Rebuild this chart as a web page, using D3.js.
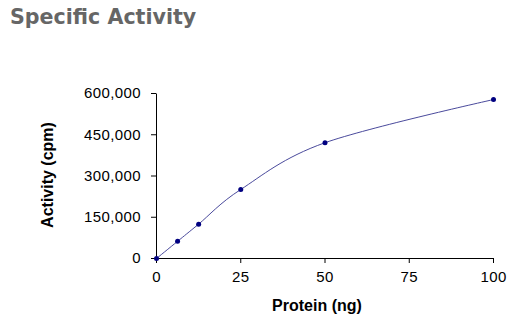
<!DOCTYPE html>
<html>
<head>
<meta charset="utf-8">
<script src="https://cdn.jsdelivr.net/npm/d3@7"></script>
<style>
  html, body { margin: 0; padding: 0; background: #fff; }
  svg { display: block; }
</style>
</head>
<body>
<svg id="chart" width="522" height="323"></svg>
<script>
const title = "Specific Activity";
const xLabel = "Protein (ng)";
const yLabel = "Activity (cpm)";
const protein = [0, 6.25, 12.5, 25, 50, 100];
const activity = [0, 62500, 125000, 251000, 421000, 578000];
const xTicks = [0, 25, 50, 75, 100];
const yTicks = [0, 150000, 300000, 450000, 600000];

const svg = d3.select("#chart");
const x = d3.scaleLinear().domain([0, 100]).range([156, 493]);
const y = d3.scaleLinear().domain([0, 600000]).range([258, 93]);

svg.append("text")
  .attr("x", 10).attr("y", 24)
  .attr("font-family", "DejaVu Sans").attr("font-weight", "bold")
  .attr("font-size", 20.6).attr("fill", "#666666")
  .text(title);

const xAxis = svg.append("g").attr("transform", "translate(0,258)")
  .call(d3.axisBottom(x).tickValues(xTicks).tickSize(5).tickSizeOuter(0).tickPadding(8));
const yAxis = svg.append("g").attr("transform", "translate(156,0)")
  .call(d3.axisLeft(y).tickValues(yTicks).tickFormat(d3.format(",")).tickSize(5).tickSizeOuter(0).tickPadding(10));

[xAxis, yAxis].forEach(g => {
  g.selectAll("text").attr("font-family", "Liberation Sans, Arial, sans-serif")
    .attr("font-size", 15).attr("letter-spacing", "0.4px").attr("fill", "#000");
  g.selectAll("line").attr("stroke", "#000");
  g.select(".domain").attr("stroke", "#000");
});

svg.append("text")
  .attr("x", 317).attr("y", 310.5)
  .attr("text-anchor", "middle")
  .attr("font-family", "Liberation Sans, Arial, sans-serif").attr("font-weight", "bold")
  .attr("font-size", 16).attr("fill", "#000")
  .text(xLabel);

svg.append("text")
  .attr("transform", "translate(53,175) rotate(-90)")
  .attr("text-anchor", "middle")
  .attr("font-family", "Liberation Sans, Arial, sans-serif").attr("font-weight", "bold")
  .attr("font-size", 16).attr("fill", "#000")
  .text(yLabel);

const pts = protein.map((p, i) => [p, activity[i]]);
const line = d3.line().x(d => x(d[0]) + 0.5).y(d => y(d[1]) + 0.5).curve(d3.curveCatmullRom.alpha(0));
svg.append("path").datum(pts)
  .attr("d", line)
  .attr("fill", "none").attr("stroke", "#4a4a9c").attr("stroke-width", 1);

svg.selectAll("circle.pt").data(pts).enter().append("circle")
  .attr("class", "pt")
  .attr("cx", d => x(d[0]) + 0.5).attr("cy", d => y(d[1]) + 0.5)
  .attr("r", 2.5).attr("fill", "#000080");
</script>
</body>
</html>
